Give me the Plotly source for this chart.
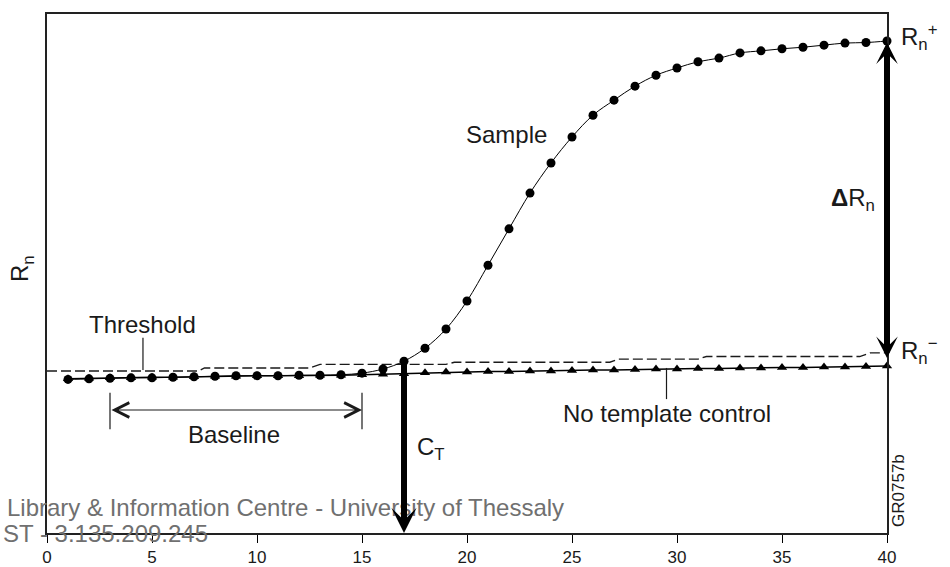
import plotly.graph_objects as go

# ---------------- data ----------------
cycles = list(range(1, 41))
sample_rn = [2.96, 2.97, 2.98, 2.99, 2.99, 3.00, 3.01, 3.02, 3.03, 3.03,
             3.03, 3.04, 3.04, 3.05, 3.08, 3.16, 3.31, 3.56, 3.93, 4.47,
             5.16, 5.86, 6.55, 7.13, 7.63, 8.05, 8.34, 8.61, 8.82, 8.96,
             9.08, 9.15, 9.25, 9.29, 9.33, 9.36, 9.40, 9.44, 9.45, 9.48]
ntc_rn = [2.97, 2.98, 2.99, 2.99, 3.00, 3.00, 3.01, 3.02, 3.02, 3.03,
          3.03, 3.03, 3.04, 3.04, 3.05, 3.06, 3.07, 3.09, 3.10, 3.10,
          3.11, 3.11, 3.12, 3.12, 3.13, 3.14, 3.14, 3.15, 3.16, 3.16,
          3.17, 3.17, 3.18, 3.18, 3.19, 3.19, 3.20, 3.20, 3.21, 3.22]
threshold_x = [0, 7.2, 7.5, 12.5, 13.0, 19.0, 19.4, 26.8, 27.2, 31.0, 31.4, 38.7, 39.2, 40]
threshold_rn = [3.12, 3.12, 3.18, 3.18, 3.25, 3.25, 3.29, 3.29, 3.35, 3.35, 3.40, 3.40, 3.47, 3.47]
x_ticks = [0, 5, 10, 15, 20, 25, 30, 35, 40]
ct_cycle = 17
baseline_start, baseline_end = 3, 15

FONT = "Liberation Sans, Arial, sans-serif"
INK = "#1a1a1a"

fig = go.Figure()

fig.add_trace(go.Scatter(
    x=threshold_x, y=threshold_rn, mode="lines",
    line=dict(color=INK, width=1.4, dash="10px,4px"),
    hoverinfo="skip", showlegend=False, cliponaxis=False))

fig.add_trace(go.Scatter(
    x=cycles, y=ntc_rn, mode="lines+markers",
    line=dict(color="black", width=1.5),
    marker=dict(symbol="triangle-up", size=9, color="black"),
    showlegend=False, cliponaxis=False))

fig.add_trace(go.Scatter(
    x=cycles, y=sample_rn, mode="lines+markers",
    line=dict(color="black", width=1, shape="spline"),
    marker=dict(symbol="circle", size=9, color="black"),
    showlegend=False, cliponaxis=False))

def txt(x, y, text, size=24, xanchor="center", yanchor="middle", color=INK, **kw):
    fig.add_annotation(x=x, y=y, text=text, showarrow=False,
                       font=dict(family=FONT, size=size, color=color),
                       xanchor=xanchor, yanchor=yanchor, **kw)

# text labels
txt(21.9, 7.67, "Sample")
txt(4.57, 4.01, "Threshold")
txt(8.9, 1.89, "Baseline")
txt(29.5, 2.31, "No template control")
txt(17.5, 1.62, "C<sub>T</sub>", xanchor="left")
txt(39.52, 6.43, "<b>Δ</b>R<sub>n</sub>", xanchor="right")
txt(40, 9.55, "R<sub>n</sub><sup>+</sup>", xanchor="left", xshift=12)
txt(40, 3.50, "R<sub>n</sub><sup>−</sup>", xanchor="left", xshift=12)

# y-axis title
fig.add_annotation(x=-0.030, y=0.51, xref="paper", yref="paper",
                   text="R<sub>n</sub>", showarrow=False, textangle=-90,
                   font=dict(family=FONT, size=24, color=INK),
                   xanchor="center", yanchor="middle")
# figure code
fig.add_annotation(x=1.0143, y=0.081, xref="paper", yref="paper",
                   text="GR0757b", showarrow=False, textangle=-90,
                   font=dict(family=FONT, size=17, color=INK),
                   xanchor="center", yanchor="middle")

# watermark
fig.add_annotation(x=-0.050, y=0.05, xref="paper", yref="paper",
                   text="Library &amp; Information Centre - University of Thessaly",
                   showarrow=False, xanchor="left", yanchor="middle",
                   font=dict(family=FONT, size=24, color="#707070"))
fig.add_annotation(x=-0.055, y=0.0, xref="paper", yref="paper",
                   text="ST - 3.135.209.245",
                   showarrow=False, xanchor="left", yanchor="middle",
                   font=dict(family=FONT, size=24, color="#707070"))

# CT arrow
fig.add_annotation(x=ct_cycle, y=0, ax=ct_cycle, ay=sample_rn[ct_cycle - 1],
                   xref="x", yref="y", axref="x", ayref="y", text="",
                   showarrow=True, arrowhead=3, arrowsize=0.7, arrowwidth=6,
                   arrowcolor="black")
# Delta Rn double arrow
fig.add_annotation(x=40, y=ntc_rn[-1] + 0.15, ax=40, ay=sample_rn[-1],
                   xref="x", yref="y", axref="x", ayref="y", text="",
                   showarrow=True, arrowhead=3, startarrowhead=3,
                   arrowside="end+start", arrowsize=0.6, startarrowsize=0.6,
                   arrowwidth=6, arrowcolor="black")
# Baseline double arrow
fig.add_annotation(x=baseline_end, y=2.37, ax=baseline_start, ay=2.37,
                   xref="x", yref="y", axref="x", ayref="y", text="",
                   showarrow=True, arrowhead=5, startarrowhead=5,
                   arrowside="end+start", arrowsize=2.4, startarrowsize=2.4,
                   arrowwidth=1.2, arrowcolor=INK)

# shapes: baseline end bars and leader lines
for end in (baseline_start, baseline_end):
    fig.add_shape(type="line", x0=end, x1=end, y0=2.00, y1=2.70,
                  line=dict(color=INK, width=1.2))
fig.add_shape(type="line", x0=4.57, x1=4.57, y0=3.14, y1=3.76,
              line=dict(color=INK, width=1.2))
fig.add_shape(type="line", x0=29.5, x1=29.5, y0=2.58, y1=3.18,
              line=dict(color=INK, width=1.2))

fig.update_xaxes(range=[0, 40], tickvals=x_ticks, ticks="outside", ticklen=8,
                 tickcolor="black", tickwidth=1.2, showgrid=False, zeroline=False,
                 showline=True, linecolor="#222", linewidth=1.5, mirror=True,
                 automargin=False,
                 tickfont=dict(family=FONT, size=17, color=INK))
fig.update_yaxes(range=[0, 10], showticklabels=False, ticks="", showgrid=False,
                 zeroline=False, showline=True, linecolor="#222", linewidth=1.5,
                 mirror=True, automargin=False)

fig.update_layout(width=950, height=567, margin=dict(l=47, r=63, t=14, b=34),
                  plot_bgcolor="white", paper_bgcolor="white", showlegend=False)

fig.write_html("out.html")
